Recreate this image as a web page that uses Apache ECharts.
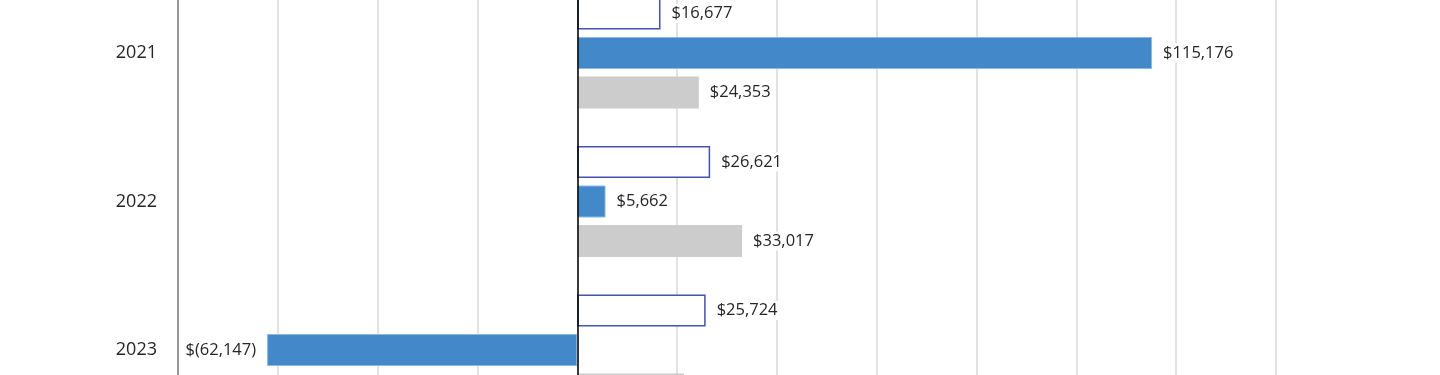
<!DOCTYPE html>
<html>
<head>
<meta charset="utf-8">
<script src="https://cdn.jsdelivr.net/npm/echarts@6/dist/echarts.min.js"></script>
<style>
html,body{margin:0;padding:0;background:#fff;overflow:hidden;width:1440px;height:375px;}
#chart{position:absolute;left:0;top:-38.5px;width:1440px;height:500px;}
</style>
</head>
<body>
<div id="chart"></div>
<script>
const categories = ['2021', '2022', '2023'];
const outlineValues = [16677, 26621, 25724];
const blueValues = [115176, 5662, -62147];
const grayValues = [24353, 33017, 21400];
const xTicks = { min: -80000, max: 140000, interval: 20000 };

function fmt(v) {
  const s = Math.abs(v).toLocaleString('en-US');
  return v < 0 ? '$(' + s + ')' : '$' + s;
}
function toItems(arr) {
  return arr.map(v => ({ value: v, label: { position: v < 0 ? 'left' : 'right' } }));
}
const labelStyle = {
  show: true,
  formatter: p => fmt(p.value),
  fontFamily: 'Open Sans',
  fontSize: 16.5,
  color: '#262626',
  backgroundColor: '#ffffff',
  padding: [1, 3],
  distance: 8
};

const chart = echarts.init(document.getElementById('chart'), null, { renderer: 'canvas' });
chart.setOption({
  animation: false,
  backgroundColor: '#ffffff',
  grid: { left: 178, right: 164, top: 16.75, bottom: 37.75, containLabel: false },
  xAxis: {
    type: 'value',
    min: xTicks.min, max: xTicks.max, interval: xTicks.interval,
    axisLabel: { show: false },
    axisLine: { show: false },
    axisTick: { show: false },
    splitLine: { show: true, lineStyle: { color: '#d9d9d9', width: 1.5 } }
  },
  yAxis: {
    type: 'category',
    data: categories,
    inverse: true,
    axisLine: { show: true, onZero: false, lineStyle: { color: '#7f7f7f', width: 1.5 } },
    axisTick: { show: false },
    axisLabel: { fontFamily: 'Open Sans', fontSize: 18, color: '#262626', margin: 21 }
  },
  series: [
    {
      type: 'bar', name: 'A', data: toItems(outlineValues),
      barWidth: 32, barGap: '23.5%',
      itemStyle: { color: '#ffffff', borderColor: '#4453b0', borderWidth: 1.5 },
      label: labelStyle,
      markLine: {
        silent: true, symbol: 'none', label: { show: false },
        lineStyle: { color: '#000000', width: 1.5, type: 'solid' },
        data: [{ xAxis: 0 }],
        z: 10
      }
    },
    {
      type: 'bar', name: 'B', data: toItems(blueValues),
      barWidth: 32, barGap: '23.5%',
      itemStyle: { color: '#4389c9', borderColor: '#8cb9e2', borderWidth: 1 },
      label: labelStyle
    },
    {
      type: 'bar', name: 'C', data: toItems(grayValues),
      barWidth: 32, barGap: '23.5%',
      itemStyle: { color: '#cccccc' },
      label: labelStyle
    }
  ]
});
</script>
</body>
</html>
